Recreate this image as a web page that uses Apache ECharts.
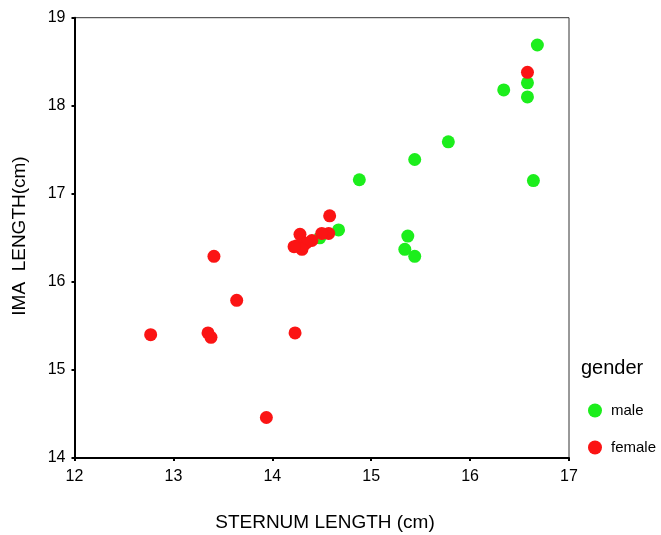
<!DOCTYPE html>
<html>
<head>
<meta charset="utf-8">
<script src="https://cdn.jsdelivr.net/npm/echarts@6/dist/echarts.min.js"></script>
<style>
  html, body { margin: 0; padding: 0; background: #fff; }
  #chart { width: 661px; height: 535px; }
</style>
</head>
<body>
<div id="chart"></div>
<script>
// Sternum length vs. IMA length, grouped by gender
const xTicks = [12, 13, 14, 15, 16, 17];
const yTicks = [14, 15, 16, 17, 18, 19];

const maleSternum = [16.68, 16.58, 16.58, 16.34, 15.78, 15.44, 14.88, 16.64, 14.67, 15.37, 15.34, 15.44, 14.48];
const maleIma     = [18.69, 18.26, 18.10, 18.18, 17.59, 17.39, 17.16, 17.15, 16.59, 16.52, 16.37, 16.29, 16.50];

const femaleSternum = [16.58, 14.58, 14.57, 14.50, 14.28, 14.40, 14.34, 14.25, 14.30, 14.22, 13.41, 13.64, 12.77, 13.35, 13.38, 14.23, 13.94];
const femaleIma     = [18.38, 16.75, 16.55, 16.55, 16.54, 16.47, 16.44, 16.41, 16.37, 16.40, 16.29, 15.79, 15.40, 15.42, 15.37, 15.42, 14.46];

const pairs = (xs, ys) => xs.map((x, i) => [x, ys[i]]);

const FONT = 'Liberation Sans, Arial, sans-serif';
const chart = echarts.init(document.getElementById('chart'), null, { renderer: 'canvas' });

const axisCommon = {
  type: 'value',
  interval: 1,
  splitLine: { show: false },
  axisLine: { show: true, lineStyle: { color: '#000', width: 2 } },
  axisTick: { show: true, inside: false, length: 3, lineStyle: { color: '#000', width: 2 } },
  axisLabel: { color: '#000', fontFamily: FONT, fontSize: 16 }
};

chart.setOption({
  animation: false,
  backgroundColor: '#fff',
  grid: {
    left: 74.5, right: 92, top: 17.7, bottom: 77,
    show: true, borderColor: '#333', borderWidth: 1, backgroundColor: 'transparent'
  },
  xAxis: Object.assign({}, axisCommon, {
    min: xTicks[0], max: xTicks[xTicks.length - 1],
    axisLabel: Object.assign({}, axisCommon.axisLabel, { margin: 11 })
  }),
  yAxis: Object.assign({}, axisCommon, {
    min: yTicks[0], max: yTicks[yTicks.length - 1],
    axisLabel: Object.assign({}, axisCommon.axisLabel, { margin: 9 })
  }),
  legend: {
    orient: 'vertical',
    left: 583, top: 398,
    itemGap: 22,
    itemWidth: 14, itemHeight: 14,
    icon: 'circle',
    textStyle: { color: '#000', fontFamily: FONT, fontSize: 15, padding: [2, 0, 0, 4] },
    data: ['male', 'female']
  },
  graphic: [
    {
      type: 'text', left: 581, top: 358,
      style: { text: 'gender', font: '20px ' + FONT, fill: '#000' }
    },
    {
      type: 'text', x: 325, y: 523,
      style: { text: 'STERNUM LENGTH (cm)', font: '19px ' + FONT, fill: '#000',
               textAlign: 'center', textVerticalAlign: 'middle' }
    },
    {
      type: 'text', x: 20, y: 236, rotation: Math.PI / 2,
      style: { text: 'IMA  LENGTH(cm)', font: '19px ' + FONT, fill: '#000',
               textAlign: 'center', textVerticalAlign: 'middle' }
    }
  ],
  series: [
    {
      name: 'male', type: 'scatter', symbol: 'circle', symbolSize: 13,
      itemStyle: { color: '#1cee1c', opacity: 1 },
      data: pairs(maleSternum, maleIma)
    },
    {
      name: 'female', type: 'scatter', symbol: 'circle', symbolSize: 13,
      itemStyle: { color: '#fb1414', opacity: 1 },
      data: pairs(femaleSternum, femaleIma)
    }
  ]
});
</script>
</body>
</html>
